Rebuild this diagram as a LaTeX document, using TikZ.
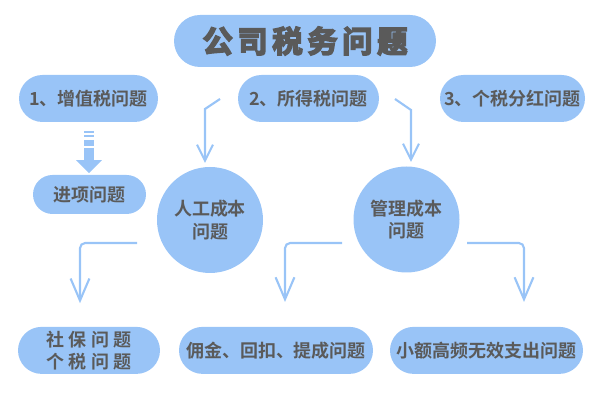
\documentclass[tikz,border=0pt]{standalone}
\usepackage{fontspec}
\usetikzlibrary{shapes.misc,arrows.meta}
\newfontfamily\cjk[BoldFont={* Bold}]{Noto Sans CJK SC}
\newfontfamily\cjktitle[BoldFont={* Bold},LetterSpace=15]{Noto Sans CJK SC}
\newcommand{\grueso}[1]{\special{pdf:code 2 Tr 1.1 w}#1\special{pdf:code 0 Tr}}
\definecolor{azul}{HTML}{99C4F7}
\definecolor{gris}{HTML}{5A5A5A}

\begin{document}
\begin{tikzpicture}[
        every node/.style={
            fill=azul,
            text=gris,
            inner sep=0pt,
            align=center,
            font=\cjk\bfseries\fontsize{12.8}{16}\selectfont
        },
        caja/.style={rounded rectangle, minimum height=1.175cm},
        circulo/.style={circle, minimum size=2.65cm},
        flecha/.style={draw=azul, line width=1.5pt, -{Straight Barb[length=0.4cm,width=0.4cm]}},
        codo/.style={flecha, rounded corners=0.13cm, -{Straight Barb[length=0.55cm,width=0.47cm]}}
    ]
    \useasboundingbox (0,0) rectangle (15,10);

    % Nodos
    \node[caja, minimum width=6.55cm, minimum height=1.3cm,
          font=\cjktitle\bfseries\fontsize{21.6}{24}\selectfont] (titulo) at (7.625,8.975) {\grueso{公司税务问题}};
    \node[caja, minimum width=3.475cm] (imp1) at (2.2125,7.5375) {1、增值税问题};
    \node[caja, minimum width=3.525cm] (imp2) at (7.7125,7.5375) {2、所得税问题};
    \node[caja, minimum width=3.625cm] (imp3) at (12.8125,7.5375) {3、个税分红问题};
    \node[caja, minimum width=2.825cm, minimum height=0.975cm] (entrada) at (2.2375,5.1375) {进项问题};
    \node[circulo] (laboral) at (5.25,4.5) {人工成本\\问题};
    \node[circulo] (gestion) at (10.1625,4.5125) {管理成本\\问题};
    \node[caja, minimum width=3.55cm] (social) at (2.225,1.24) {社 保 问 题\\个 税 问 题};
    \node[caja, minimum width=4.85cm] (comision) at (6.9,1.24) {佣金、回扣、提成问题};
    \node[caja, minimum width=4.825cm] (gasto) at (12.1625,1.24) {小额高频无效支出问题};

    % Puntos de las flechas
    \coordinate (t1) at (2.225,6.725);
    \coordinate (t2) at (2.225,5.67);
    \coordinate (i1) at (5.5,7.525);
    \coordinate (i2) at (5.125,7.275);
    \coordinate (i3) at (5.125,5.925);
    \coordinate (d1) at (9.875,7.525);
    \coordinate (d2) at (10.275,7.25);
    \coordinate (d3) at (10.275,5.95);
    \coordinate (s1) at (3.425,3.925);
    \coordinate (s2) at (2.0,2.42);
    \coordinate (c1) at (8.55,3.925);
    \coordinate (c2) at (7.125,2.45);
    \coordinate (g1) at (11.675,3.925);
    \coordinate (g2) at (13.1,2.45);

    % Flechas
    \draw[draw=azul, line width=0.25cm,
          dash pattern=on 1.4pt off 1.4pt on 1.8pt off 1.8pt on 4.3pt off 1.4pt on 12pt off 0pt,
          -{Triangle[width=0.625cm,length=0.325cm]}] (t1) -- (t2);
    \draw[flecha] (i1) -- (i2) -- (i3);
    \draw[flecha] (d1) -- (d2) -- (d3);
    \draw[codo] (s1) -| (s2);
    \draw[codo] (c1) -| (c2);
    \draw[codo] (g1) -| (g2);

\end{tikzpicture}
\end{document}
